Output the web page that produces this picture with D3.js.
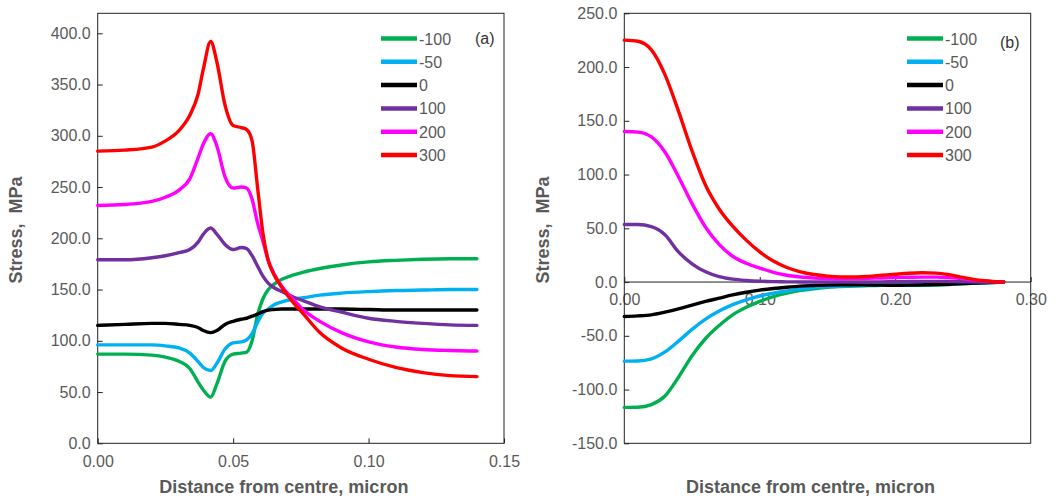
<!DOCTYPE html>
<html><head><meta charset="utf-8">
<script src="https://cdn.jsdelivr.net/npm/d3@7"></script>
<style>body{margin:0;background:#fff}svg{display:block}text{font-family:"Liberation Sans",Arial,sans-serif}</style>
</head><body>
<svg id="chart" width="1060" height="502"></svg>
<script>
const seriesNames = ["-100", "-50", "0", "100", "200", "300"];
const seriesColors = ["#00B050", "#00B0F0", "#000000", "#7030A0", "#FF00FF", "#FF0000"];

// Panel (a)
const xA = [0, 0.01, 0.02, 0.025, 0.03, 0.034, 0.037, 0.039, 0.0417, 0.044, 0.047, 0.05, 0.053, 0.055, 0.057, 0.059, 0.061, 0.063, 0.065, 0.068, 0.072, 0.076, 0.082, 0.09, 0.1, 0.11, 0.12, 0.13, 0.14];
const aM100 = [87, 87, 86, 84, 80, 73, 60, 52, 45, 58, 80, 87, 88, 89, 100, 125, 141, 150, 155, 160, 164, 167, 170.5, 174, 177, 178.5, 179.5, 180, 180];
const aM50 = [96, 96, 96, 95, 93, 88, 80, 74, 71, 78, 92, 98, 99, 101, 107, 118, 127, 131, 135, 138, 140.5, 142, 144.5, 146.5, 148, 149, 149.5, 150, 150];
const a0 = [115, 116, 117, 117, 116, 115, 113, 110, 108, 110, 116, 119, 121, 122, 124, 126, 128.5, 130, 130.5, 131, 131, 131, 131, 131, 130.5, 130, 130, 130, 130];
const a100 = [179, 179, 181, 183, 186, 189, 196, 204, 210, 204, 194, 189, 191, 190, 183, 173, 163, 156, 152, 148, 143, 139, 133, 128, 122, 119, 117, 115.5, 115];
const a200 = [232, 233, 236, 240, 247, 258, 278, 292, 302, 290, 260, 249, 250, 249, 238, 215, 197, 178, 166, 153, 141, 130, 119, 108, 99, 94, 91.5, 90.5, 90];
const a300 = [285, 286, 289, 295, 305, 320, 340, 365, 392, 372, 330, 310, 308, 306, 295, 250, 205, 178, 165, 152, 138, 126, 108, 93, 82, 74, 69, 66, 65];
const yTicksA = [0, 50, 100, 150, 200, 250, 300, 350, 400];
const xTicksA = [0, 0.05, 0.10, 0.15];

// Panel (b)
const xB = [0, 0.01, 0.02, 0.03, 0.04, 0.05, 0.06, 0.07, 0.08, 0.09, 0.1, 0.11, 0.12, 0.13, 0.14, 0.15, 0.16, 0.17, 0.18, 0.19, 0.2, 0.21, 0.22, 0.23, 0.24, 0.25, 0.26, 0.27, 0.28];
const bM100 = [-116.6, -116.4, -114, -106, -88.5, -68.5, -52.5, -40.5, -30.5, -23.5, -18, -13.5, -10.3, -7.8, -6.2, -4.9, -4.2, -3.7, -3.3, -3.1, -3, -3, -3, -2.8, -2.3, -1.5, -1, -0.5, 0];
const bM50 = [-73.6, -73.5, -71.5, -65, -55, -44, -34.5, -27, -21, -16.5, -13, -10.3, -8.3, -6.6, -5.3, -4.3, -3.7, -3.3, -3.1, -3, -3, -2.8, -2.5, -2.2, -1.9, -1.5, -1, -0.5, 0];
const b0 = [-32, -31.5, -30.5, -28, -25, -21.5, -18, -15, -12, -9.5, -7.5, -6, -4.8, -3.8, -3.2, -2.7, -2.5, -2.5, -2.7, -2.9, -3, -2.9, -2.6, -2.4, -2, -1.5, -0.9, -0.4, 0];
const b100 = [53.5, 53.5, 51.5, 44, 28, 17, 9.5, 5, 2.7, 1.5, 0.8, 0.4, 0.2, 0.1, 0, 0, 0, 0, 0.1, 0.2, 0.3, 0.5, 0.6, 0.6, 0.5, 0.3, 0.1, 0, 0];
const b200 = [140, 139.5, 135, 121, 98, 73, 51, 35, 24, 17.5, 13, 9, 6.3, 4.7, 3.7, 3.2, 3, 3.2, 3.5, 3.8, 4.1, 4.4, 4.6, 4.6, 4.1, 3, 1.6, 0.6, 0];
const b300 = [225, 224, 216, 193, 159, 122, 90, 68, 52, 39, 28, 19.5, 13.5, 9.5, 7, 5.5, 4.8, 4.7, 5.3, 6.3, 7.3, 8.2, 8.6, 8.3, 6.8, 4.3, 2, 0.8, 0];
const yTicksB = [-150, -100, -50, 0, 50, 100, 150, 200, 250];
const xTicksB = [0, 0.10, 0.20, 0.30];

const xTitle = "Distance from centre, micron";
const yTitle = "Stress,  MPa";

const svg = d3.select("#chart");
const LABEL = "#595959";
const loc = d3.formatLocale({decimal: ".", thousands: ",", grouping: [3], currency: ["", ""], minus: "-"});

function panel(opt) {
  const g = svg.append("g");
  const x = d3.scaleLinear().domain(opt.xDomain).range([opt.left, opt.right]);
  const y = d3.scaleLinear().domain(opt.yDomain).range([opt.bottom, opt.top]);
  // y axis
  const ya = g.append("g").attr("transform", `translate(${opt.left},0)`)
    .call(d3.axisLeft(y).tickValues(opt.yTicks).tickFormat(loc.format(".1f")).tickSizeInner(-5).tickSizeOuter(0).tickPadding(7));
  ya.select(".domain").remove();
  ya.selectAll("line").attr("stroke", "#222");
  ya.selectAll("text").attr("fill", LABEL).style("font-size", "16px");
  // x axis
  const xAxisY = opt.xAxisAt != null ? y(opt.xAxisAt) : opt.bottom;
  const xa = g.append("g").attr("transform", `translate(0,${xAxisY})`)
    .call(d3.axisBottom(x).tickValues(opt.xTicks).tickFormat(loc.format(".2f")).tickSizeInner(-5).tickSizeOuter(0).tickPadding(opt.xPad));
  xa.select(".domain").remove();
  xa.selectAll("line").attr("stroke", "#222");
  xa.selectAll("text").attr("fill", LABEL).style("font-size", "16px");
  if (opt.xAxisAt != null) {
    g.append("line").attr("x1", opt.left).attr("x2", opt.right).attr("y1", xAxisY).attr("y2", xAxisY)
      .attr("stroke", "#222").attr("stroke-width", 1);
  }
  // frame
  g.append("rect").attr("x", opt.left).attr("y", opt.top).attr("width", opt.right - opt.left).attr("height", opt.bottom - opt.top)
    .attr("fill", "none").attr("stroke", "#222").attr("stroke-width", 1);
  // lines
  const line = d3.line().x(d => x(d[0])).y(d => y(d[1])).curve(d3.curveMonotoneX);
  opt.series.forEach((vals, i) => {
    g.append("path").datum(opt.xs.map((xv, j) => [xv, vals[j]]))
      .attr("d", line).attr("fill", "none").attr("stroke", seriesColors[i])
      .attr("stroke-width", 3.4).attr("stroke-linejoin", "round").attr("stroke-linecap", "round");
  });
  // titles
  g.append("text").attr("x", (opt.left + opt.right) / 2 + opt.xtDx).attr("y", 493).attr("text-anchor", "middle")
    .attr("fill", LABEL).style("font-size", "18px").style("font-weight", "bold").text(xTitle);
  g.append("text").attr("transform", `translate(${opt.ytX},${230}) rotate(-90)`).attr("text-anchor", "middle")
    .attr("fill", LABEL).style("font-size", "18px").style("font-weight", "bold").style("white-space", "pre").text(yTitle);
  // legend
  const lg = g.append("g");
  seriesNames.forEach((name, i) => {
    const yy = 38.5 + i * 23.3;
    lg.append("line").attr("x1", opt.legX).attr("x2", opt.legX + 36).attr("y1", yy).attr("y2", yy)
      .attr("stroke", seriesColors[i]).attr("stroke-width", 4.5);
    lg.append("text").attr("x", opt.legX + 38).attr("y", yy + 6).attr("fill", LABEL).style("font-size", "16px").text(name);
  });
  g.append("text").attr("x", opt.tagX).attr("y", opt.tagY).attr("fill", "#333").style("font-size", "16px").text(opt.tag);
}

panel({
  left: 97.7, right: 504, top: 13.3, bottom: 443.3,
  xDomain: [0, 0.15], yDomain: [0, 419.5],
  xs: xA, series: [aM100, aM50, a0, a100, a200, a300],
  yTicks: yTicksA, xTicks: xTicksA, xPad: 12, xAxisAt: null,
  xtDx: -17, ytX: 22, legX: 381, tag: "(a)", tagX: 475, tagY: 44
});
panel({
  left: 624.3, right: 1030.7, top: 13.3, bottom: 443.3,
  xDomain: [0, 0.3], yDomain: [-150, 250],
  xs: xB, series: [bM100, bM50, b0, b100, b200, b300],
  yTicks: yTicksB, xTicks: xTicksB, xPad: 12, xAxisAt: 0,
  xtDx: -17, ytX: 549, legX: 907, tag: "(b)", tagX: 1000, tagY: 48
});
</script>
</body></html>
